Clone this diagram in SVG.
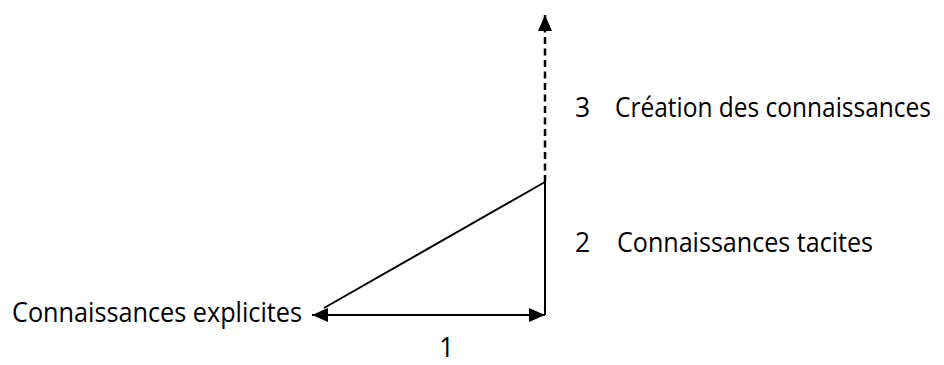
<svg xmlns="http://www.w3.org/2000/svg" width="944" height="365" viewBox="0 0 944 365">
  <style>
    .lbl { font-family: "Open Sans", "Liberation Sans", sans-serif; font-size: 26.5px; fill: #000; }
    .ln { stroke: #000; stroke-width: 2; fill: none; }
    .dash { stroke-dasharray: 7 4.5; stroke-width: 2.5; }
  </style>
  <defs>
    <marker id="ah" viewBox="0 0 16 14" refX="16" refY="7" markerWidth="16" markerHeight="14" markerUnits="userSpaceOnUse" orient="auto">
      <path d="M0,0 L16,7 L0,14 Z" fill="#000"/>
    </marker>
  </defs>
  <rect width="944" height="365" fill="#fff"/>
  <g id="connectors">
    <line class="ln" x1="545" y1="182" x2="545" y2="315"/>
    <line class="ln" x1="545" y1="182" x2="324" y2="308"/>
    <line class="ln" x1="545" y1="315" x2="312" y2="315" marker-end="url(#ah)"/>
    <line class="ln" x1="312" y1="315" x2="545" y2="315" marker-end="url(#ah)"/>
    <line class="ln dash" x1="545" y1="182" x2="545" y2="15" marker-end="url(#ah)"/>
  </g>
  <g id="node-explicites">
    <text class="lbl" x="12" y="322" textLength="290" lengthAdjust="spacingAndGlyphs">Connaissances explicites</text>
  </g>
  <g id="node-tacites">
    <text class="lbl" x="575" y="252">2</text>
    <text class="lbl" x="617" y="252" textLength="256" lengthAdjust="spacingAndGlyphs">Connaissances tacites</text>
  </g>
  <g id="node-creation">
    <text class="lbl" x="575" y="117">3</text>
    <text class="lbl" x="615" y="117" textLength="316" lengthAdjust="spacingAndGlyphs">Création des connaissances</text>
  </g>
  <g id="node-1">
    <text class="lbl" x="439" y="357">1</text>
  </g>
</svg>
